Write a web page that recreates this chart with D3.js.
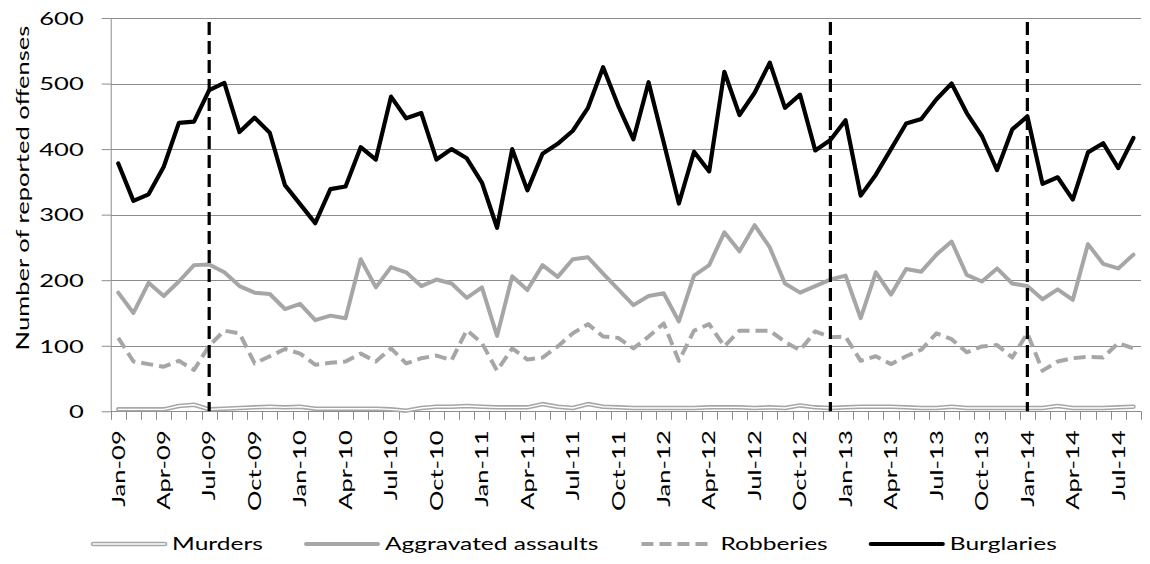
<!DOCTYPE html>
<html><head><meta charset="utf-8">
<script src="https://cdn.jsdelivr.net/npm/d3@7"></script>
<style>
body{margin:0;background:#fff}
text{font-family:Lato,'Open Sans',sans-serif;fill:#000;font-weight:400}
</style>
</head><body>
<svg id="chart" width="1150" height="564"></svg>
<script>
const categories = ["Jan-09","Feb-09","Mar-09","Apr-09","May-09","Jun-09","Jul-09","Aug-09","Sep-09","Oct-09","Nov-09","Dec-09",
"Jan-10","Feb-10","Mar-10","Apr-10","May-10","Jun-10","Jul-10","Aug-10","Sep-10","Oct-10","Nov-10","Dec-10",
"Jan-11","Feb-11","Mar-11","Apr-11","May-11","Jun-11","Jul-11","Aug-11","Sep-11","Oct-11","Nov-11","Dec-11",
"Jan-12","Feb-12","Mar-12","Apr-12","May-12","Jun-12","Jul-12","Aug-12","Sep-12","Oct-12","Nov-12","Dec-12",
"Jan-13","Feb-13","Mar-13","Apr-13","May-13","Jun-13","Jul-13","Aug-13","Sep-13","Oct-13","Nov-13","Dec-13",
"Jan-14","Feb-14","Mar-14","Apr-14","May-14","Jun-14","Jul-14","Aug-14"];
const tickLabels = ["Jan-09","Apr-09","Jul-09","Oct-09","Jan-10","Apr-10","Jul-10","Oct-10","Jan-11","Apr-11","Jul-11","Oct-11",
"Jan-12","Apr-12","Jul-12","Oct-12","Jan-13","Apr-13","Jul-13","Oct-13","Jan-14","Apr-14","Jul-14"];
const yTicks = [0,100,200,300,400,500,600];
const markerMonths = ["Jul-09","Dec-12","Jan-14"];
const seriesNames = ["Murders","Aggravated assaults","Robberies","Burglaries"];
const yTitle = "Number of reported offenses";

const murders = [3,3,3,3,8,10,3,4,5,6,7,6,7,4,4,4,4,4,3,1,5,7,7,
8,7,6,6,6,11,7,5,11,7,6,5,5,5,5,5,6,6,6,5,6,5,
9,6,5,6,7,7,7,6,5,5,7,5,5,5,5,5,5,8,5,5,5,6,7];
const assaults = [181,150,196,176,198,223,224,212,191,181,179,156,164,139,146,142,232,189,220,212,191,201,195,
173,189,115,206,185,223,205,232,235,210,186,162,176,180,137,207,223,273,244,284,250,195,
181,191,201,207,142,212,178,217,213,239,259,208,198,218,195,191,171,186,170,255,225,218,239];
const robberies = [112,76,72,68,77,63,100,123,119,73,84,95,88,71,74,76,88,76,96,73,81,85,78,
124,104,62,96,79,82,99,119,133,114,112,96,114,134,77,123,133,99,123,123,123,106,
93,122,113,114,77,84,72,84,94,119,110,90,99,101,82,119,62,76,81,83,82,104,96];
const burglaries = [378,321,331,373,440,442,490,501,426,448,425,345,316,287,339,343,403,384,480,447,455,384,400,
386,349,280,400,337,393,408,428,463,525,466,415,502,410,317,396,366,518,452,486,532,463,
483,398,414,444,329,361,400,439,446,476,500,455,420,368,430,450,347,357,323,395,409,371,417];

const svg = d3.select("#chart");
const FS = 17.5;
const FONT = "Lato,'Open Sans',sans-serif";
const GRID = "#8c8c8c", SERIES_GRAY = "#a6a6a6";

const x = d3.scaleBand().domain(categories).range([110.7, 1141]).padding(0);
const y = d3.scaleLinear().domain([0, 600]).range([411.3, 18]);
const cx = c => x(c) + x.bandwidth() / 2;

// measure stretch factor (reference text is wider than Lato)
const probe = svg.append("text").attr("font-size", FS).text(yTitle);
const stretch = 325 / probe.node().getComputedTextLength();
probe.remove();
const legStretch = stretch * 0.96;

// gridlines
svg.append("g").selectAll("line").data(yTicks).join("line")
  .attr("x1", x.range()[0]).attr("x2", x.range()[1])
  .attr("y1", d => Math.round(y(d)) + 0.5).attr("y2", d => Math.round(y(d)) + 0.5)
  .attr("stroke", GRID).attr("stroke-width", 1);

// y axis
const gy = svg.append("g").attr("transform", `translate(${x.range()[0]},0)`)
  .call(d3.axisLeft(y).tickValues(yTicks).tickSize(9).tickPadding(0));
gy.select(".domain").attr("stroke", GRID).attr("d", `M0.5,${y(600)}V${y(0)}`);
gy.selectAll(".tick line").attr("stroke", GRID);
gy.selectAll(".tick text").attr("font-size", FS).attr("font-family", FONT)
  .attr("x", null).attr("dy", "0.36em")
  .attr("transform", `translate(-27,0) scale(${stretch},1)`);

// x axis labels via axis
const gx = svg.append("g").attr("transform", `translate(0,${y(0)})`)
  .call(d3.axisBottom(x).tickValues(tickLabels).tickSize(0).tickPadding(0));
gx.select(".domain").remove();
gx.selectAll(".tick text").attr("font-size", FS).attr("font-family", FONT)
  .attr("y", null).attr("dy", "0.36em").attr("text-anchor", "end")
  .attr("transform", `translate(0,19) rotate(-90) scale(${stretch},1)`);

// x tick marks at category boundaries
const bounds = categories.map(c => x(c)).concat([x.range()[1]]);
svg.append("g").selectAll("line").data(bounds).join("line")
  .attr("x1", d => Math.round(d) + 0.5).attr("x2", d => Math.round(d) + 0.5)
  .attr("y1", y(0)).attr("y2", y(0) + 8.5)
  .attr("stroke", GRID).attr("stroke-width", 1);
svg.append("line").attr("x1", x.range()[0]).attr("x2", x.range()[1])
  .attr("y1", Math.round(y(0)) + 0.5).attr("y2", Math.round(y(0)) + 0.5).attr("stroke", GRID);

// series lines
const line = d3.line().x((d, i) => cx(categories[i])).y(d => y(d)).curve(d3.curveLinear);
const plot = svg.append("g").attr("fill", "none").attr("stroke-linejoin", "round");
plot.append("path").datum(murders).attr("d", line).attr("stroke", SERIES_GRAY).attr("stroke-width", 4.5).attr("stroke-linecap", "round");
plot.append("path").datum(murders).attr("d", line).attr("stroke", "#fff").attr("stroke-width", 1.4).attr("stroke-linecap", "round");
plot.append("path").datum(assaults).attr("d", line).attr("stroke", SERIES_GRAY).attr("stroke-width", 4).attr("stroke-linecap", "round");
plot.append("path").datum(robberies).attr("d", line).attr("stroke", SERIES_GRAY).attr("stroke-width", 4).attr("stroke-dasharray", "12,6");
plot.append("path").datum(burglaries).attr("d", line).attr("stroke", "#000").attr("stroke-width", 4.2).attr("stroke-linecap", "round");

// vertical dashed markers
svg.append("g").selectAll("line").data(markerMonths).join("line")
  .attr("x1", d => cx(d)).attr("x2", d => cx(d))
  .attr("y1", y(600) + 4).attr("y2", y(0))
  .attr("stroke", "#000").attr("stroke-width", 3.2).attr("stroke-dasharray", "13,6");

// y title
svg.append("text").attr("font-size", FS).attr("text-anchor", "middle")
  .attr("transform", `translate(29,188) rotate(-90) scale(${stretch},1)`)
  .text(yTitle);

// legend
const legendY = 544, lineLen = 72, gapText = 7, gapItem = 43;
const leg = svg.append("g");
const items = seriesNames.map(name => {
  const t = leg.append("text").attr("font-size", FS).text(name);
  return {name, t, w: t.node().getComputedTextLength() * legStretch};
});
const total = d3.sum(items, d => lineLen + gapText + d.w) + gapItem * (items.length - 1);
let lx = 575 - total / 2;
items.forEach((it, i) => {
  const g = leg.append("g");
  const seg = g.append("line").attr("x1", lx).attr("x2", lx + lineLen).attr("y1", legendY).attr("y2", legendY);
  if (i === 0) {
    seg.attr("stroke", SERIES_GRAY).attr("stroke-width", 4.5).attr("stroke-linecap", "round");
    g.append("line").attr("x1", lx).attr("x2", lx + lineLen).attr("y1", legendY).attr("y2", legendY)
      .attr("stroke", "#fff").attr("stroke-width", 1.4).attr("stroke-linecap", "round");
  } else if (i === 1) {
    seg.attr("stroke", SERIES_GRAY).attr("stroke-width", 4).attr("stroke-linecap", "round");
  } else if (i === 2) {
    seg.attr("stroke", SERIES_GRAY).attr("stroke-width", 4).attr("stroke-dasharray", "12,6");
  } else {
    seg.attr("stroke", "#000").attr("stroke-width", 4.2).attr("stroke-linecap", "round");
  }
  it.t.attr("dy", "0.36em").attr("transform", `translate(${lx + lineLen + gapText},${legendY}) scale(${legStretch},1)`);
  lx += lineLen + gapText + it.w + gapItem;
});
</script>
</body></html>
